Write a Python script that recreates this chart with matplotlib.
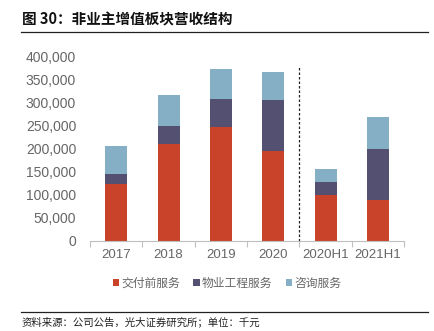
import matplotlib.pyplot as plt
import numpy as np

plt.rcParams['font.family'] = ['Liberation Sans', 'Noto Sans CJK SC', 'DejaVu Sans']

categories = ['2017', '2018', '2019', '2020', '2020H1', '2021H1']
pre_delivery = [123000, 211000, 248000, 194000, 99000, 88000]
engineering = [22000, 38000, 60000, 111000, 28000, 111000]
consulting = [61000, 68000, 65000, 62000, 28000, 69000]
series_names = ['交付前服务', '物业工程服务', '咨询服务']
colors = ['#C9432A', '#545071', '#85AFC4']

fig = plt.figure(figsize=(4.35, 3.31), dpi=100)
ax = fig.add_axes([0.207, 0.273, 0.722, 0.556])

x = np.arange(len(categories))
w = 0.42
bottom = np.zeros(len(categories))
for vals, name, c in zip([pre_delivery, engineering, consulting], series_names, colors):
    ax.bar(x, vals, w, bottom=bottom, color=c, label=name)
    bottom += np.array(vals)

ax.axvline(3.5, ymin=0, ymax=0.945, color='#222222', lw=0.9, ls=(0, (2, 1.6)))

ax.set_xlim(-0.5, 5.5)
ax.set_ylim(0, 400000)
ax.set_yticks(np.arange(0, 400001, 50000))
ax.set_yticklabels([f'{v:,}' for v in range(0, 400001, 50000)])
ax.set_xticks(x)
ax.set_xticklabels(categories)
ax.set_xticks(np.arange(-0.5, 6, 1), minor=True)
ax.tick_params(axis='x', which='major', length=0, pad=6, labelsize=9.5, labelcolor='#666666')
ax.tick_params(axis='x', which='minor', length=4, color='#BFBFBF', width=0.8)
ax.tick_params(axis='y', length=0, pad=10, labelsize=10, labelcolor='#666666')
for s in ['top', 'right', 'left']:
    ax.spines[s].set_visible(False)
ax.spines['bottom'].set_color('#BFBFBF')

leg = fig.legend(loc='center', bbox_to_anchor=(0.522, 0.145), ncol=3, frameon=False,
                 handlelength=0.55, handleheight=0.55, handletextpad=0.2, columnspacing=1.1,
                 prop={'family': ['Noto Sans CJK SC'], 'size': 8.5})
for t in leg.get_texts():
    t.set_color('#666666')

fig.text(0.05, 0.94, '图 30：非业主增值板块营收结构', fontsize=10.5, fontweight='bold',
         family=['Noto Sans CJK SC'], va='center', color='#111111')
fig.add_artist(plt.Line2D([0.048, 0.984], [0.903, 0.903], color='#222222', lw=0.9))
fig.add_artist(plt.Line2D([0.048, 0.984], [0.058, 0.058], color='#222222', lw=0.9))
fig.text(0.05, 0.027, '资料来源：公司公告，光大证券研究所；单位：千元', fontsize=7.5,
         family=['Noto Sans CJK SC'], va='center', color='#222222')

fig.savefig('out.png', dpi=100)
